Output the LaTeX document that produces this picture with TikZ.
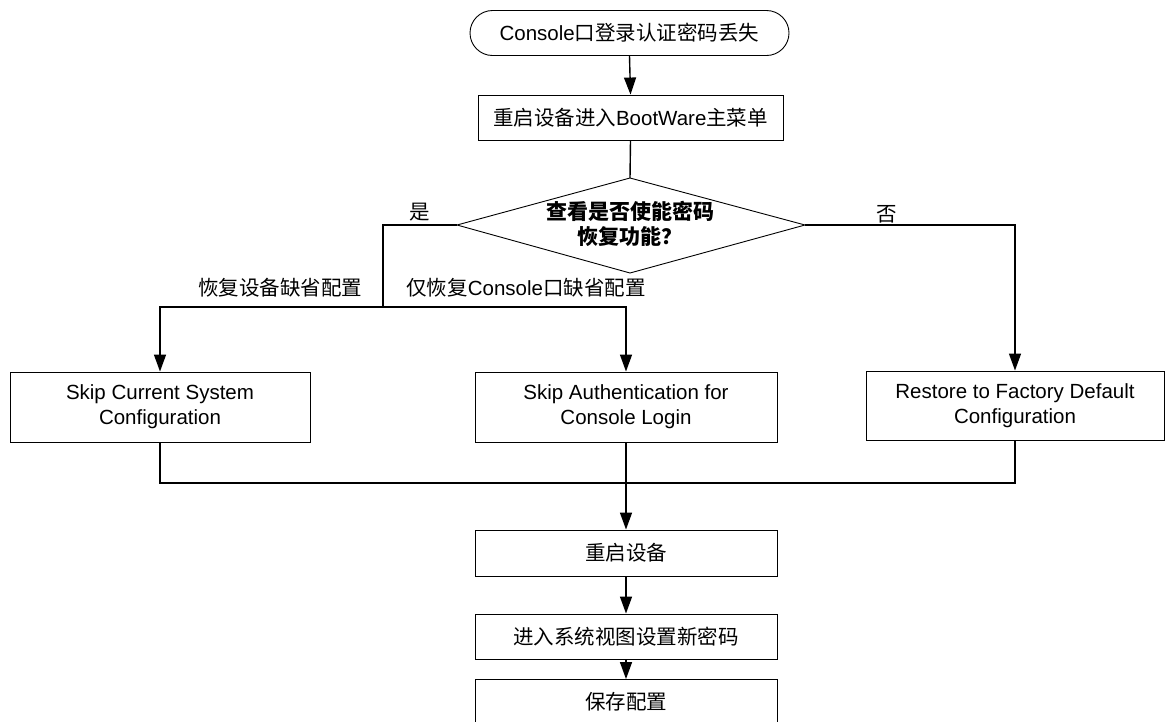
\documentclass[tikz,border=0pt]{standalone}
\usepackage{fontspec}
\setmainfont{Liberation Sans}
\newfontfamily\cjk{Noto Sans CJK SC}
\newcommand\zhs[1]{{\cjk #1}}
\usetikzlibrary{arrows.meta}
\begin{document}
\begin{tikzpicture}[x=1pt,y=-1pt,
  every node/.style={font=\fontsize{20.5}{25}\selectfont, align=center, inner sep=0pt},
  box/.style={draw, line width=0.9pt, minimum width=302, minimum height=45},
  bigbox/.style={box, minimum height=70},
  term/.style={draw, line width=0.9pt, rounded corners=22.5, minimum width=319, minimum height=45},
  conn/.style={line width=1.4pt},
  arr/.style={conn, -{Triangle[length=17pt,width=12pt]}},
  shapeline/.style={line width=0.9pt}
]
\useasboundingbox (0,0) rectangle (1165,721);
\clip (0,0) rectangle (1165,721);

% nodes
\node[term] (start) at (629.5,33) {Console\zhs{口登录认证密码丢失}};
\node[box, minimum width=305] (boot) at (630.5,117.5) {\zhs{重启设备进入}BootWare\zhs{主菜单}};

\draw[shapeline] (630,178) coordinate (dT) -- (805,225) coordinate (dR)
  -- (630,273) coordinate (dB) -- (457,225) coordinate (dL) -- cycle;
\node[font=\fontsize{21}{25}\selectfont\cjk\bfseries] (dec) at (630,224) {查看是否使能密码\\恢复功能？};

\node[bigbox, minimum width=300] (sc) at (160,407) {Skip Current System\\Configuration};
\node[bigbox] (sa) at (626,407) {Skip Authentication for\\Console Login};
\node[bigbox, minimum width=298, minimum height=69] (rf) at (1015,405.5) {Restore to Factory Default\\Configuration};

\node[box, minimum height=46] (rb) at (626,553) {\zhs{重启设备}};
\node[box] (np) at (626,636.5) {\zhs{进入系统视图设置新密码}};
\node[box] (sv) at (626,702) {\zhs{保存配置}};

% labels
\node (yes) at (420,212) {\zhs{是}};
\node (no) at (887,214) {\zhs{否}};
\node (l1) at (280,288) {\zhs{恢复设备缺省配置}};
\node (l2) at (526,288) {\zhs{仅恢复}Console\zhs{口缺省配置}};

% connectors
\coordinate (jy) at (383,307);
\coordinate (jb) at (626,483);
\draw[arr] (start.south) -- (boot.north);
\draw[conn] (boot.south) -- (dT);
\draw[conn] (dL) -| (jy);
\draw[arr] (jy) -| (sc.north);
\draw[arr] (jy) -| (sa.north);
\draw[arr] (dR) -| (rf.north);
\draw[conn] (sc.south) |- (jb);
\draw[conn] (rf.south) |- (jb);
\draw[arr] (sa.south) -- (rb.north);
\draw[arr] (rb.south) -- (np.north);
\draw[arr] (np.south) -- (sv.north);
\end{tikzpicture}
\end{document}
